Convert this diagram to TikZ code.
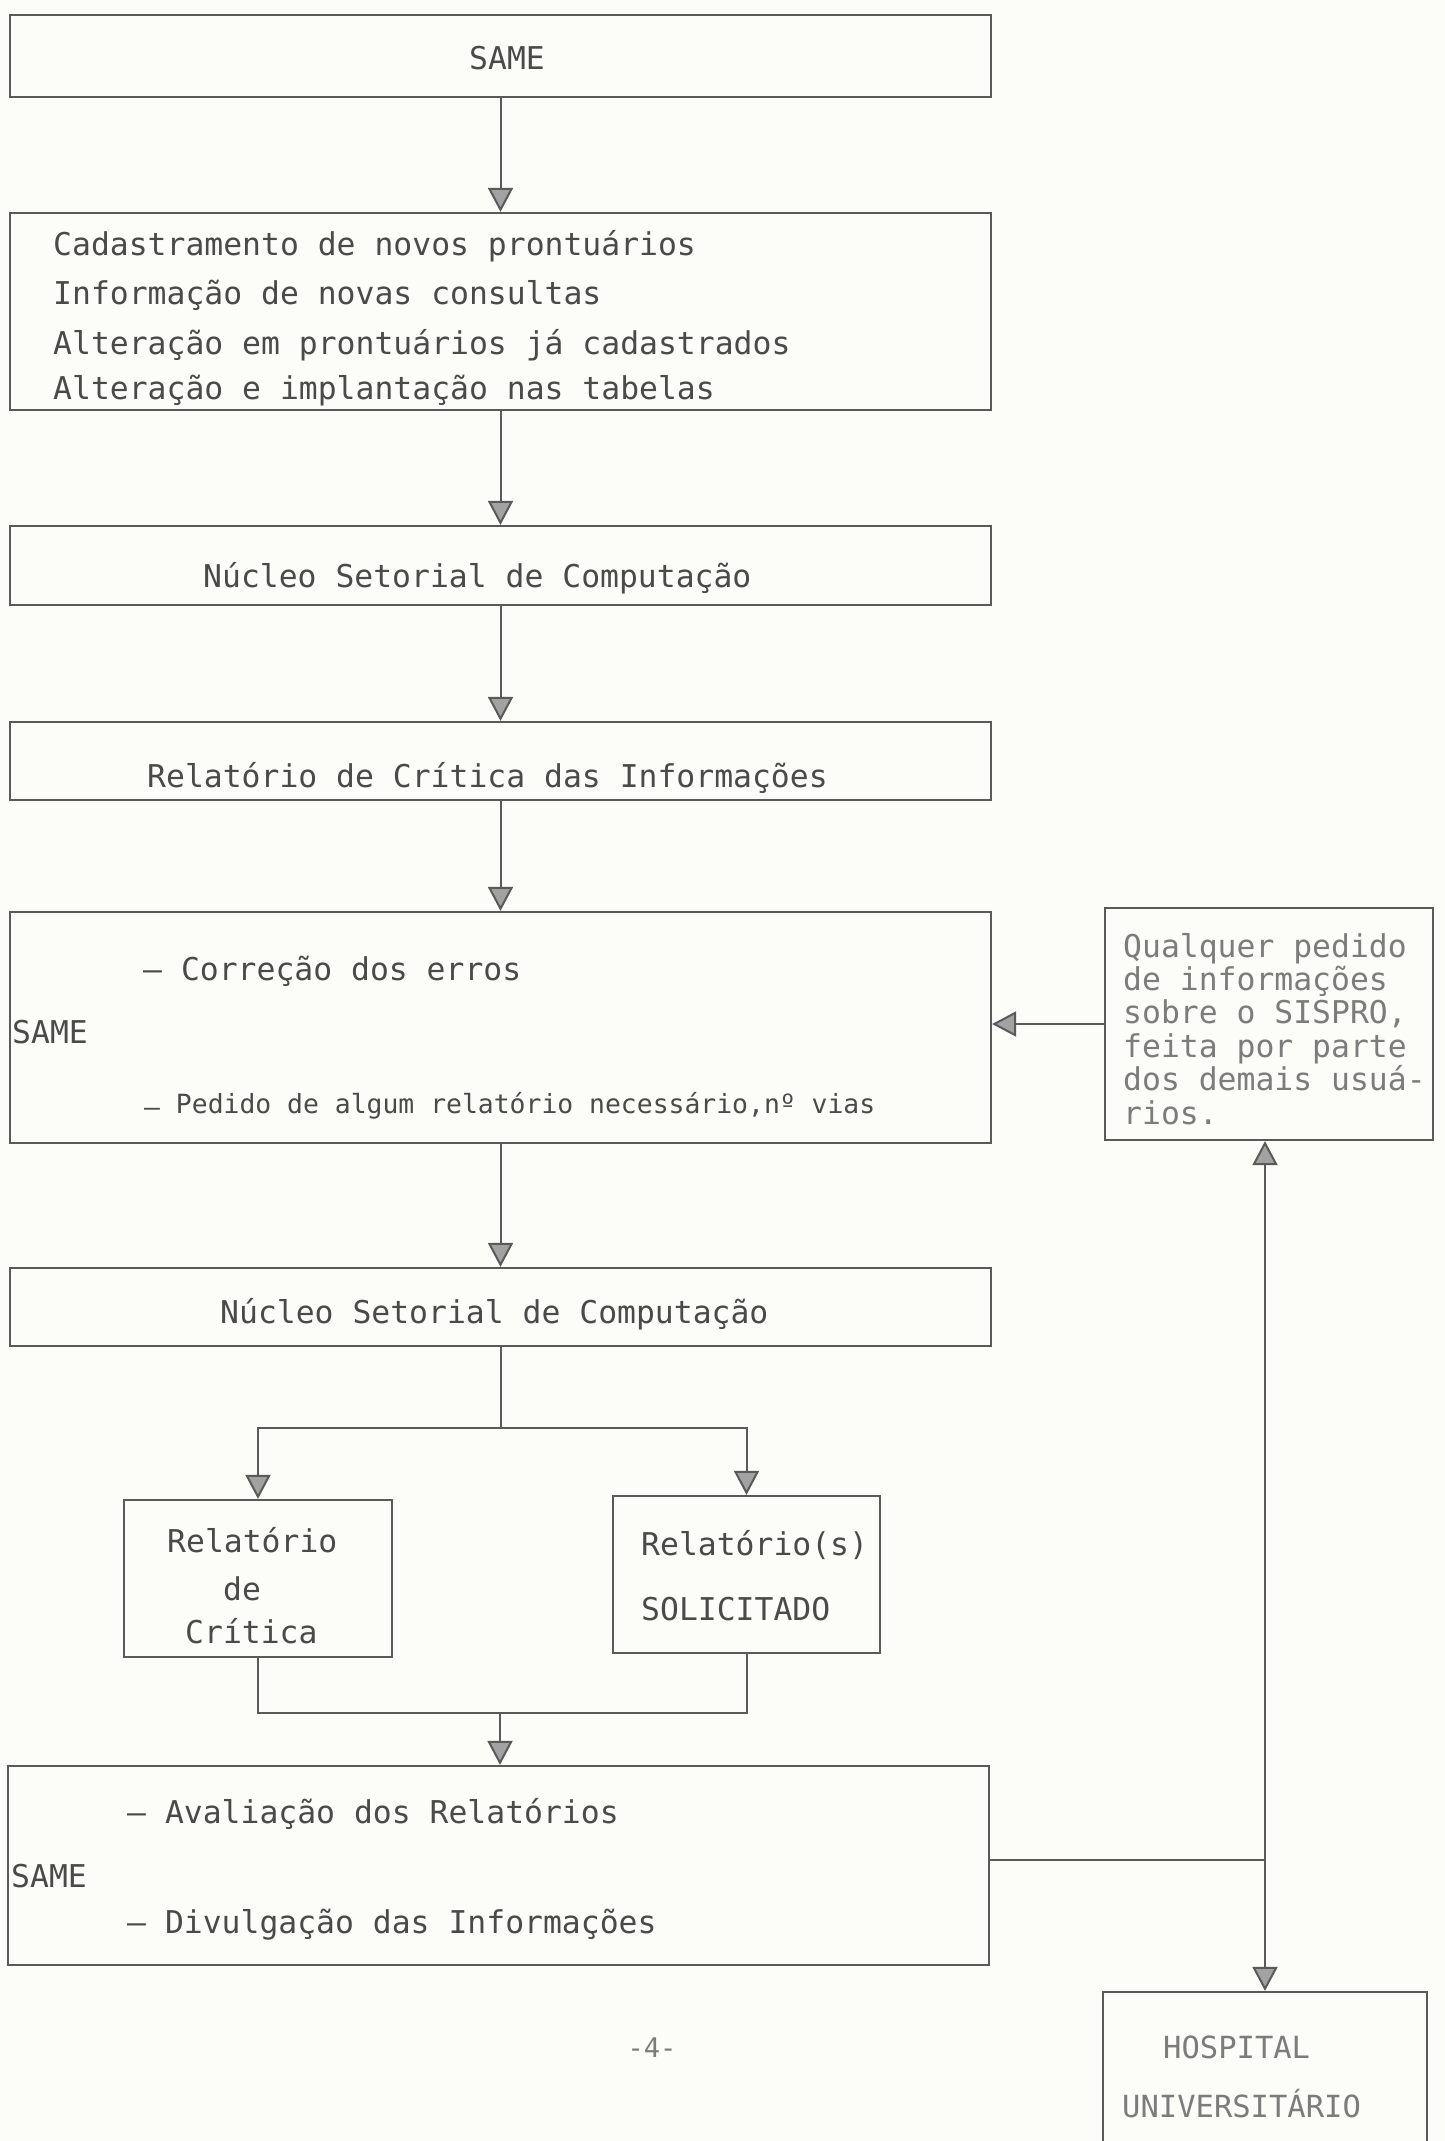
\documentclass[tikz,border=0pt]{standalone}
\usepackage{fontspec}
\newfontfamily\tw{DejaVu Sans Mono}
\usetikzlibrary{arrows.meta}
\definecolor{paper}{HTML}{FCFCF8}
\definecolor{ink}{HTML}{5A5A5A}
\definecolor{txtdark}{HTML}{4A4A4A}
\definecolor{txtlight}{HTML}{7C7C7C}
\definecolor{arrfill}{HTML}{A2A2A2}
\begin{document}
\begin{tikzpicture}[x=1pt,y=-1pt,
  box/.style={draw=ink, line width=2.2pt, inner sep=0pt},
  lbl/.style={font={\tw\fontsize{31.4pt}{34pt}\selectfont}, text=txtdark, inner sep=0pt, anchor=base west},
  lbllight/.style={lbl, text=txtlight},
  small/.style={font={\tw\fontsize{26.4pt}{30pt}\selectfont}},
  conn/.style={draw=ink, line width=2pt},
  arr/.style={conn, -{Triangle[length=24pt,width=25pt,fill=arrfill]}}]
\fill[paper] (0,0) rectangle (1445,2141);
\useasboundingbox (0,0) rectangle (1445,2141);
\clip (0,0) rectangle (1445,2141);

% boxes
\node[box, minimum width=981pt, minimum height=82pt]  (same1)   at (500.5,56) {};
\node[box, minimum width=981pt, minimum height=197pt] (cad)     at (500.5,311.5) {};
\node[box, minimum width=981pt, minimum height=79pt]  (nuc1)    at (500.5,565.5) {};
\node[box, minimum width=981pt, minimum height=78pt]  (rel)     at (500.5,761) {};
\node[box, minimum width=981pt, minimum height=231pt] (same2)   at (500.5,1027.5) {};
\node[box, minimum width=328pt, minimum height=232pt] (qual)    at (1269,1024) {};
\node[box, minimum width=981pt, minimum height=78pt]  (nuc2)    at (500.5,1307) {};
\node[box, minimum width=268pt, minimum height=157pt] (relcrit) at (258,1578.5) {};
\node[box, minimum width=267pt, minimum height=157pt] (relsol)  at (746.5,1574.5) {};
\node[box, minimum width=981pt, minimum height=199pt] (same3)   at (498.5,1865.5) {};
\node[box, minimum width=324pt, minimum height=208pt] (hosp)    at (1265,2096) {};

% texts
\node[lbl] (tsame1) at (469,70) {SAME};
\node[lbl] (c1) at (53,255) {Cadastramento de novos prontuários};
\node[lbl] (c2) at (53,304) {Informação de novas consultas};
\node[lbl] (c3) at (53,354) {Alteração em prontuários já cadastrados};
\node[lbl] (c4) at (53,399) {Alteração e implantação nas tabelas};
\node[lbl] (tnuc1) at (203,587) {Núcleo Setorial de Computação};
\node[lbl] (trel) at (147,787) {Relatório de Crítica das Informações};
\node[lbl] (e1) at (143,980) {– Correção dos erros};
\node[lbl] (tsame2) at (12,1043) {SAME};
\node[lbl, small] (e2) at (144,1113) {\raisebox{-0.25ex}{–} Pedido de algum relatório necessário,nº vias};
\node[lbllight] (q1) at (1123,957)  {Qualquer pedido};
\node[lbllight] (q2) at (1123,990)  {de informações};
\node[lbllight] (q3) at (1123,1023) {sobre o SISPRO,};
\node[lbllight] (q4) at (1123,1057) {feita por parte};
\node[lbllight] (q5) at (1123,1090) {dos demais usuá-};
\node[lbllight] (q6) at (1123,1124) {rios.};
\node[lbl] (tnuc2) at (220,1323) {Núcleo Setorial de Computação};
\node[lbl] (rc1) at (167,1552) {Relatório};
\node[lbl] (rc2) at (223,1600) {de};
\node[lbl] (rc3) at (185,1643) {Crítica};
\node[lbl] (rs1) at (641,1555) {Relatório(s)};
\node[lbl] (rs2) at (641,1620) {SOLICITADO};
\node[lbl] (a1) at (127,1823) {– Avaliação dos Relatórios};
\node[lbl] (tsame3) at (11,1887) {SAME};
\node[lbl] (a2) at (127,1933) {– Divulgação das Informações};
\node[lbllight, anchor=base, font={\tw\fontsize{27pt}{30pt}\selectfont}] (pg) at (652,2057) {-4-};
\node[lbllight, font={\tw\fontsize{30.5pt}{34pt}\selectfont}] (h1) at (1163,2058) {HOSPITAL};
\node[lbllight, font={\tw\fontsize{30.5pt}{34pt}\selectfont}] (h2) at (1122,2117) {UNIVERSITÁRIO};

% connectors
\draw[arr] (same1.south) -- (cad.north);
\draw[arr] (cad.south) -- (nuc1.north);
\draw[arr] (nuc1.south) -- (rel.north);
\draw[arr] (rel.south) -- (same2.north);
\draw[arr] (same2.south) -- (nuc2.north);

\coordinate (split) at (500.5,1428);
\draw[conn] (nuc2.south) -- (split);
\draw[arr] (split) -| (relcrit.north);
\draw[arr] (split) -| (relsol.north);

\coordinate (merge) at (500,1713);
\draw[conn] (relcrit.south) |- (merge);
\draw[conn] (relsol.south) |- (merge);
\draw[arr] (merge) -- (merge |- same3.north);

\draw[arr] (qual.west) -- (same2.east |- qual.west);

\coordinate (junc) at (1265,1860);
\draw[conn] (same3.east |- junc) -- (junc);
\draw[arr] (junc) -- (junc |- qual.south);
\draw[arr] (junc) -- (hosp.north);
\end{tikzpicture}
\end{document}
